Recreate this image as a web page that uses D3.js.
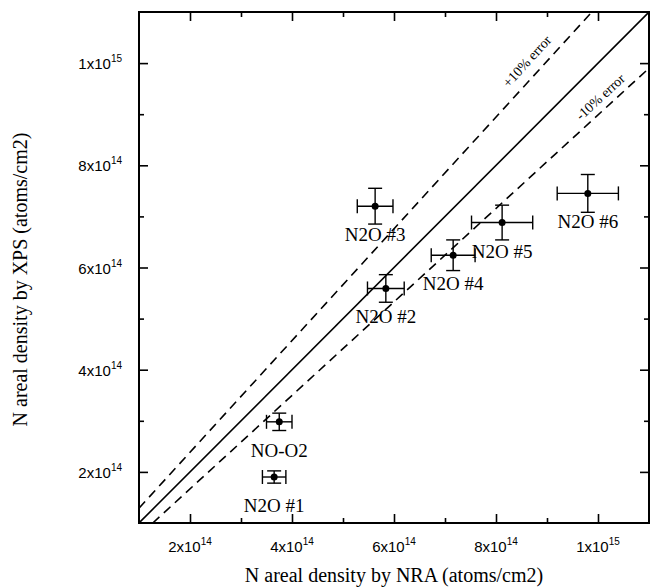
<!DOCTYPE html>
<html>
<head>
<meta charset="utf-8">
<script src="https://cdn.jsdelivr.net/npm/d3@7"></script>
<style>
  body { margin: 0; background: #fff; }
  svg { display: block; }
  .domain { display: none; }
  .tick line { stroke: #000; stroke-width: 1.6; }
</style>
</head>
<body>
<svg id="chart" width="650" height="588"></svg>
<script>
// sample data
const samples = ["N2O #1", "NO-O2", "N2O #2", "N2O #3", "N2O #4", "N2O #5", "N2O #6"];
const nra = [3.65e14, 3.75e14, 5.84e14, 5.63e14, 7.16e14, 8.12e14, 9.80e14];
const xps = [1.90e14, 2.98e14, 5.59e14, 7.20e14, 6.24e14, 6.88e14, 7.45e14];
const nraErr = [0.23e14, 0.25e14, 0.36e14, 0.35e14, 0.43e14, 0.60e14, 0.60e14];
const xpsErr = [0.12e14, 0.17e14, 0.27e14, 0.35e14, 0.30e14, 0.34e14, 0.37e14];

// reference lines (end points in data units)
const lineNames = ["", "+10% error", "-10% error"];
const lineStarts = [[1e14, 1e14], [1e14, 1.29e14], [1.27e14, 1e14]];
const lineEnds = [[1.1e15, 1.1e15], [9.88e14, 1.1e15], [1.1e15, 9.9e14]];

// ticks
const majorTicks = [2e14, 4e14, 6e14, 8e14, 1e15];
const minorTicks = [3e14, 5e14, 7e14, 9e14];
const tickMant = ["2", "4", "6", "8", "1"];
const tickExp = ["14", "14", "14", "14", "15"];

const svg = d3.select("svg#chart");
const width = +svg.attr("width");
const height = +svg.attr("height");
const margin = { top: 12, right: 1, bottom: 65, left: 139 };
const chartWidth = width - margin.left - margin.right;
const chartHeight = height - margin.top - margin.bottom;

const serif = "'Liberation Serif', 'Times New Roman', serif";
const sans = "'Liberation Sans', Arial, sans-serif";

const x = d3.scaleLinear().domain([1e14, 1.1e15]).range([0, chartWidth]);
const y = d3.scaleLinear().domain([1e14, 1.1e15]).range([chartHeight, 0]);

const chart = svg.append("g").attr("transform", `translate(${margin.left},${margin.top})`);

// ticks, all pointing inward on four sides
function addTicks(axisFn, scale, values, size, transform) {
    chart.append("g")
        .attr("transform", transform)
        .call(axisFn(scale).tickValues(values).tickSize(size).tickFormat(""));
}
addTicks(d3.axisBottom, x, majorTicks, -9, `translate(0,${chartHeight})`);
addTicks(d3.axisBottom, x, minorTicks, -5, `translate(0,${chartHeight})`);
addTicks(d3.axisTop, x, majorTicks, -9, "translate(0,0)");
addTicks(d3.axisTop, x, minorTicks, -5, "translate(0,0)");
addTicks(d3.axisLeft, y, majorTicks, -9, "translate(0,0)");
addTicks(d3.axisLeft, y, minorTicks, -5, "translate(0,0)");
addTicks(d3.axisRight, y, majorTicks, -9, `translate(${chartWidth},0)`);
addTicks(d3.axisRight, y, minorTicks, -5, `translate(${chartWidth},0)`);

// frame
chart.append("rect")
    .attr("width", chartWidth).attr("height", chartHeight)
    .attr("fill", "none").attr("stroke", "#000").attr("stroke-width", 2);

// tick labels like 2x10^14
function tickLabel(sel, i) {
    sel.append("tspan").text(tickMant[i] + "x10");
    sel.append("tspan").attr("font-size", 10).attr("dy", -7).text(tickExp[i]);
}
majorTicks.forEach((v, i) => {
    chart.append("text")
        .attr("x", x(v)).attr("y", chartHeight + 29)
        .attr("text-anchor", "middle")
        .attr("font-family", sans).attr("font-size", 15)
        .call(tickLabel, i);
    chart.append("text")
        .attr("x", -17).attr("y", y(v) + 6)
        .attr("text-anchor", "end")
        .attr("font-family", sans).attr("font-size", 15)
        .call(tickLabel, i);
});

// axis titles
svg.append("text")
    .attr("x", margin.left + chartWidth / 2).attr("y", 582)
    .attr("text-anchor", "middle")
    .attr("font-family", serif).attr("font-size", 20)
    .text("N areal density by NRA (atoms/cm2)");
svg.append("text")
    .attr("transform", `translate(27,${margin.top + chartHeight / 2 + 12}) rotate(-90)`)
    .attr("text-anchor", "middle")
    .attr("font-family", serif).attr("font-size", 20)
    .text("N areal density by XPS (atoms/cm2)");

// reference lines
const clip = svg.append("clipPath").attr("id", "plotclip");
clip.append("rect").attr("width", chartWidth).attr("height", chartHeight);
const lines = chart.append("g").attr("clip-path", "url(#plotclip)");
lineStarts.forEach((s, i) => {
    lines.append("line")
        .attr("x1", x(s[0])).attr("y1", y(s[1]))
        .attr("x2", x(lineEnds[i][0])).attr("y2", y(lineEnds[i][1]))
        .attr("stroke", "#000").attr("stroke-width", 1.6)
        .attr("stroke-dasharray", i === 0 ? null : "9,6");
});

// labels along the dashed lines
const lineLabelAt = [null, 8.82e14, 1.02e15];
const lineLabelDy = [0, -10, -7];
[1, 2].forEach(i => {
    const s = lineStarts[i], e = lineEnds[i];
    const t = (lineLabelAt[i] - s[0]) / (e[0] - s[0]);
    const ly = s[1] + t * (e[1] - s[1]);
    const ang = Math.atan2(y(e[1]) - y(s[1]), x(e[0]) - x(s[0])) * 180 / Math.PI;
    chart.append("text")
        .attr("transform", `translate(${x(lineLabelAt[i])},${y(ly)}) rotate(${ang})`)
        .attr("dy", lineLabelDy[i])
        .attr("text-anchor", "middle")
        .attr("font-family", serif).attr("font-size", 14)
        .text(lineNames[i]);
});

// points with error bars
const cap = 7;
const pts = chart.append("g").attr("stroke", "#000").attr("stroke-width", 1.4);
samples.forEach((name, i) => {
    const cx = x(nra[i]), cy = y(xps[i]);
    const x0 = x(nra[i] - nraErr[i]), x1 = x(nra[i] + nraErr[i]);
    const y0 = y(xps[i] - xpsErr[i]), y1 = y(xps[i] + xpsErr[i]);
    pts.append("line").attr("x1", x0).attr("x2", x1).attr("y1", cy).attr("y2", cy);
    pts.append("line").attr("x1", x0).attr("x2", x0).attr("y1", cy - cap).attr("y2", cy + cap);
    pts.append("line").attr("x1", x1).attr("x2", x1).attr("y1", cy - cap).attr("y2", cy + cap);
    pts.append("line").attr("x1", cx).attr("x2", cx).attr("y1", y0).attr("y2", y1);
    pts.append("line").attr("x1", cx - cap).attr("x2", cx + cap).attr("y1", y0).attr("y2", y0);
    pts.append("line").attr("x1", cx - cap).attr("x2", cx + cap).attr("y1", y1).attr("y2", y1);
    chart.append("circle").attr("cx", cx).attr("cy", cy).attr("r", 3.5).attr("fill", "#000");
    chart.append("text")
        .attr("x", cx).attr("y", cy + 35)
        .attr("text-anchor", "middle")
        .attr("font-family", serif).attr("font-size", 19)
        .text(name);
});
</script>
</body>
</html>
